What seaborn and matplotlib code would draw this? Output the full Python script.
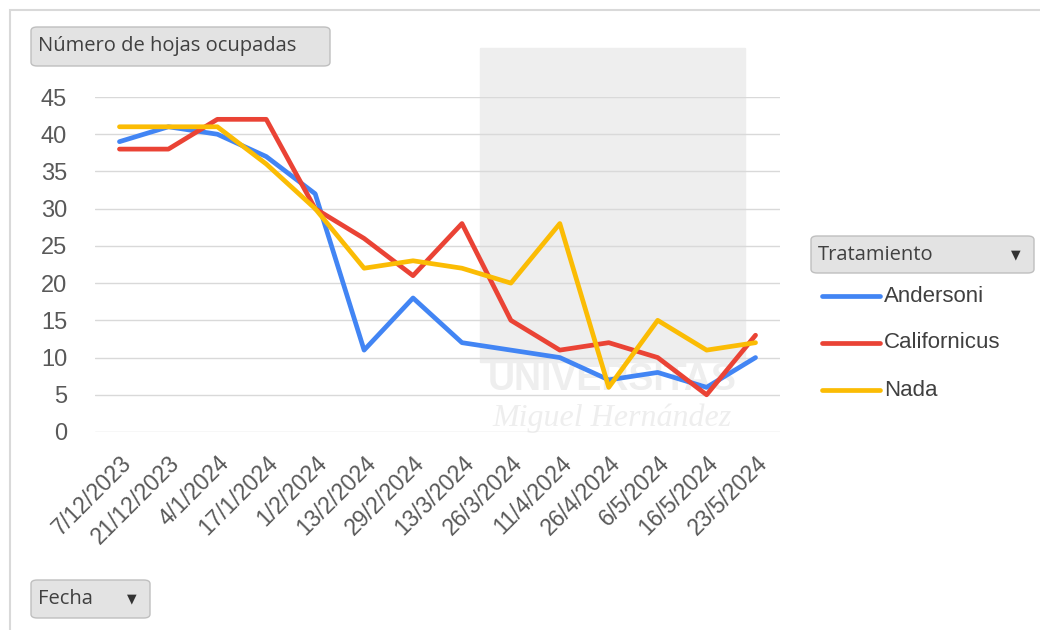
import numpy as np
import pandas as pd
import matplotlib
matplotlib.use("Agg")
import matplotlib.pyplot as plt
import seaborn as sns
from matplotlib.patches import FancyBboxPatch, Rectangle
from matplotlib.lines import Line2D

# datos
fechas = ["7/12/2023", "21/12/2023", "4/1/2024", "17/1/2024", "1/2/2024",
          "13/2/2024", "29/2/2024", "13/3/2024", "26/3/2024", "11/4/2024",
          "26/4/2024", "6/5/2024", "16/5/2024", "23/5/2024"]
andersoni = [39, 41, 40, 37, 32, 11, 18, 12, 11, 10, 7, 8, 6, 10]
californicus = [38, 38, 42, 42, 30, 26, 21, 28, 15, 11, 12, 10, 5, 13]
nada = [41, 41, 41, 36, 30, 22, 23, 22, 20, 28, 6, 15, 11, 12]
tratamientos = ["Andersoni", "Californicus", "Nada"]
colores = ["#4285F4", "#EA4335", "#FBBC04"]

df = pd.DataFrame({
    "idx": list(range(len(fechas))) * 3,
    "Fecha": fechas * 3,
    "valor": andersoni + californicus + nada,
    "Tratamiento": np.repeat(tratamientos, len(fechas)),
})

sns.set_theme(style="white")
plt.rcParams['font.family'] = ['Liberation Sans', 'DejaVu Sans']

fig = plt.figure(figsize=(10.4, 6.3), dpi=100)
ax = fig.add_axes([95 / 1040, 1 - 432 / 630, 685 / 1040, 335 / 630])
ax.set_zorder(2)
ax.patch.set_alpha(0)

# marco exterior
fig.patches.append(Rectangle((10 / 1040, -0.1), 1.2, 1 - 10 / 630 + 0.1, transform=fig.transFigure,
                             fill=False, edgecolor="#d9d9d9", lw=1.5, zorder=-2))

# marca de agua (logo de fondo)
fig.patches.append(Rectangle((480 / 1040, 1 - 362 / 630), 265 / 1040, 314 / 630,
                             transform=fig.transFigure, color="#eeeeee", zorder=-1))
fig.text(612 / 1040, 1 - 380 / 630, "UNIVERSITAS", ha="center", va="center", fontsize=27,
         fontweight="bold", color="#eeeeee", zorder=-1)
fig.text(612 / 1040, 1 - 418 / 630, "Miguel Hernández", ha="center", va="center", fontsize=23,
         style="italic", family="Liberation Serif", color="#eeeeee", zorder=-1)

for y in range(0, 50, 5):
    ax.axhline(y, color="#d9d9d9", lw=1, zorder=1)

sns.lineplot(data=df, x="idx", y="valor", hue="Tratamiento", palette=colores,
             hue_order=tratamientos, linewidth=3.4, ax=ax, legend=False, zorder=3)

ax.set_xlim(-0.5, len(fechas) - 0.5)
ax.set_ylim(0, 45)
ax.set_yticks(range(0, 50, 5))
ax.set_xticks(range(len(fechas)))
ax.set_xticklabels(fechas, rotation=45, ha="right", rotation_mode="anchor")
ax.tick_params(axis="both", colors="#595959", length=0)
ax.tick_params(axis="x", pad=14, labelsize=16.5)
ax.tick_params(axis="y", pad=20, labelsize=17)
ax.set_xlabel("")
ax.set_ylabel("")
for s in ax.spines.values():
    s.set_visible(False)


def boton(x0, y0, x1, y1, texto, flecha=False):
    fig.patches.append(FancyBboxPatch((x0 / 1040, 1 - y1 / 630), (x1 - x0) / 1040, (y1 - y0) / 630,
                                      boxstyle="round,pad=0,rounding_size=0.006",
                                      transform=fig.transFigure, facecolor="#e3e3e3",
                                      edgecolor="#bfbfbf", lw=1))
    fig.text((x0 + 7) / 1040, 1 - (y0 + y1) / 2 / 630, texto, ha="left", va="center",
             fontsize=14.5, color="#404040", family=["Open Sans", "DejaVu Sans"])
    if flecha:
        fig.text((x1 - 18) / 1040, 1 - (y0 + y1) / 2 / 630, "▼", ha="center", va="center",
                 fontsize=9, color="#333333", family="DejaVu Sans")


boton(31, 27, 330, 66, "Número de hojas ocupadas")
boton(811, 236, 1034, 273, "Tratamiento", flecha=True)
boton(31, 580, 150, 618, "Fecha", flecha=True)

# leyenda
for i, (t, c) in enumerate(zip(tratamientos, colores)):
    yy = 1 - (296 + i * 47) / 630
    fig.add_artist(Line2D([822 / 1040, 880 / 1040], [yy, yy], color=c, lw=3.4,
                          solid_capstyle="round", transform=fig.transFigure))
    fig.text(884 / 1040, yy, t, ha="left", va="center", fontsize=16, color="#404040")

fig.savefig("out.png", dpi=100)
